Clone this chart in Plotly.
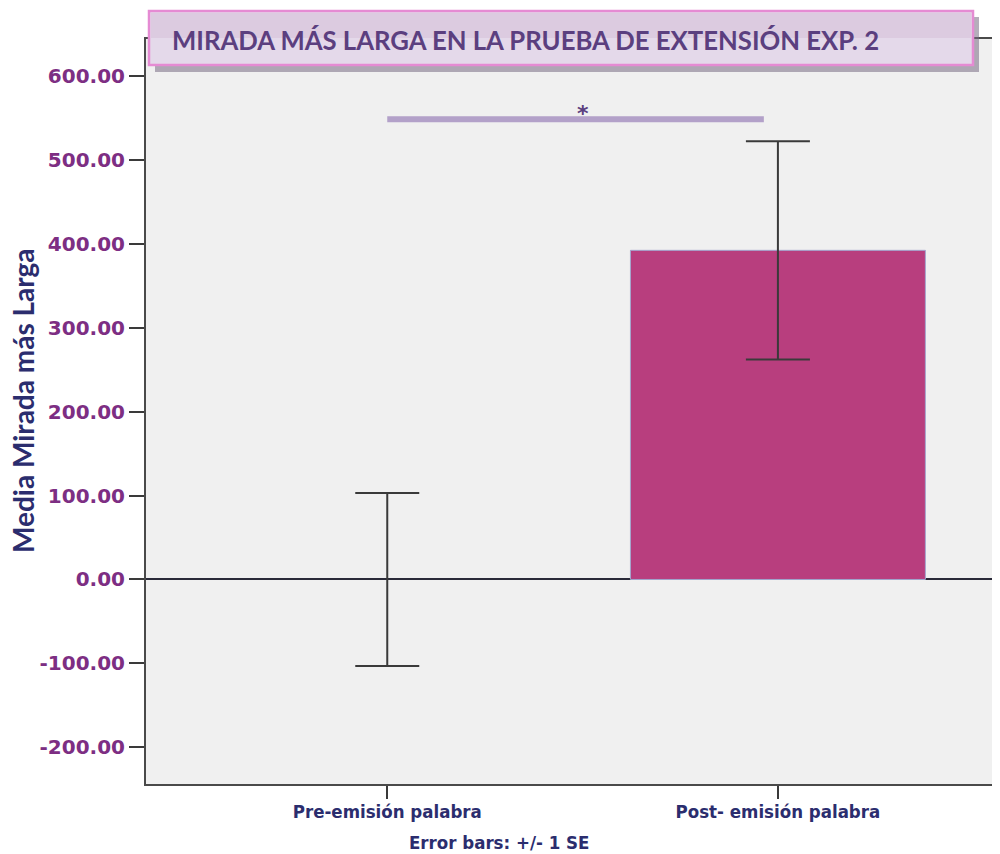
import plotly.graph_objects as go

# ── data
categories = ["Pre-emisión palabra", "Post- emisión palabra"]
means = [0.0, 392.0]
std_err = [103.0, 130.0]
y_ticks = [-200, -100, 0, 100, 200, 300, 400, 500, 600]
sig_label = "*"
sig_level = 548.0

title_text = "MIRADA MÁS LARGA EN LA PRUEBA DE EXTENSIÓN EXP. 2"
y_title = "Media Mirada más Larga"
footnote = "Error bars: +/- 1 SE"

# page has an 8px body margin, so lay things out in page pixels minus OFF
OFF = 8
W, H = 1000, 854
M_L, M_T = 146 - OFF, 39 - OFF
M_R = 0
M_B = H - (784 - OFF)
PW, PH = W - M_L - M_R, H - M_T - M_B


def px(x):
    return (x - OFF - M_L) / PW


def py(y):
    return (H - M_B - (y - OFF)) / PH


fig = go.Figure()

fig.add_trace(go.Bar(
    x=categories, y=means, width=0.755,
    marker=dict(color="#b83e7e",
                line=dict(color="#a3a7cf", width=[0, 1])),
    error_y=dict(type="data", array=std_err, visible=True,
                 color="#3a3a3a", thickness=2, width=32),
    showlegend=False, hoverinfo="skip",
))

# ── significance bar + asterisk
fig.add_shape(type="line", xref="x", yref="y",
              x0=0, x1=0.964, y0=sig_level, y1=sig_level,
              line=dict(color="#b3a1c9", width=6), layer="above")
fig.add_annotation(x=0.5, y=sig_level, xref="x", yref="y",
                   text=f"<b>{sig_label}</b>", showarrow=False,
                   yanchor="bottom", yshift=-9,
                   font=dict(family="DejaVu Sans", size=22, color="#5b3f7f"))

# ── title box (shadow + pink-edged box)
fig.add_shape(type="rect", xref="paper", yref="paper",
              x0=px(155), x1=px(979), y0=py(72), y1=py(17),
              fillcolor="rgba(120,108,132,0.55)", line=dict(width=0),
              layer="above")
fig.add_shape(type="rect", xref="paper", yref="paper",
              x0=px(149), x1=px(973), y0=py(65), y1=py(11),
              fillcolor="#e4d9ea", line=dict(color="#e58bd3", width=2.5),
              layer="above")
fig.add_shape(type="rect", xref="paper", yref="paper",
              x0=px(151), x1=px(971), y0=py(38), y1=py(13),
              fillcolor="#dccbe0", line=dict(width=0), layer="above")
fig.add_annotation(x=px(170), y=py(40), xref="paper", yref="paper",
                   text=f"<b>{title_text}</b>", showarrow=False,
                   xanchor="left", yanchor="middle",
                   font=dict(family="Lato", size=25.7, color="#5b3f7f"))

# ── y-axis title (placed by hand, sits a little above the plot centre)
fig.add_annotation(x=px(23), y=py(401), xref="paper", yref="paper",
                   text=f"<b>{y_title}</b>", showarrow=False, textangle=-90,
                   xanchor="center", yanchor="middle",
                   font=dict(family="Lato", size=28, color="#2b2d6e"))

fig.add_annotation(x=px(499), y=py(843), xref="paper", yref="paper",
                   text=f"<b>{footnote}</b>", showarrow=False,
                   xanchor="center", yanchor="middle",
                   font=dict(family="DejaVu Sans Condensed, DejaVu Sans",
                             size=18.5, color="#2b2d6e"))

fig.update_layout(
    width=W, height=H,
    margin=dict(l=M_L, r=M_R, t=M_T, b=M_B),
    paper_bgcolor="white", plot_bgcolor="#f0f0f0",
    xaxis=dict(
        range=[-0.6176, 1.589], showgrid=False, zeroline=False,
        showline=True, linecolor="#4a4a4a", linewidth=2, mirror=True,
        ticks="outside", ticklen=13, tickwidth=2, tickcolor="#3a3a3a",
        ticklabelstandoff=-3,
        tickfont=dict(family="DejaVu Sans Condensed, DejaVu Sans",
                      size=18.5, color="#2b2d6e", weight="bold"),
    ),
    yaxis=dict(
        range=[-243.6, 643.7], tickvals=y_ticks,
        ticktext=[f"{v:.2f}" for v in y_ticks],
        showgrid=False, zeroline=True, zerolinecolor="#2a2a38",
        zerolinewidth=2,
        showline=True, linecolor="#4a4a4a", linewidth=2,
        ticks="outside", ticklen=15, tickwidth=2, tickcolor="#3a3a3a",
        tickfont=dict(family="DejaVu Sans", size=20, color="#7d2e83",
                      weight="bold"),
        automargin=False,
    ),
)

fig.write_html("out.html")
